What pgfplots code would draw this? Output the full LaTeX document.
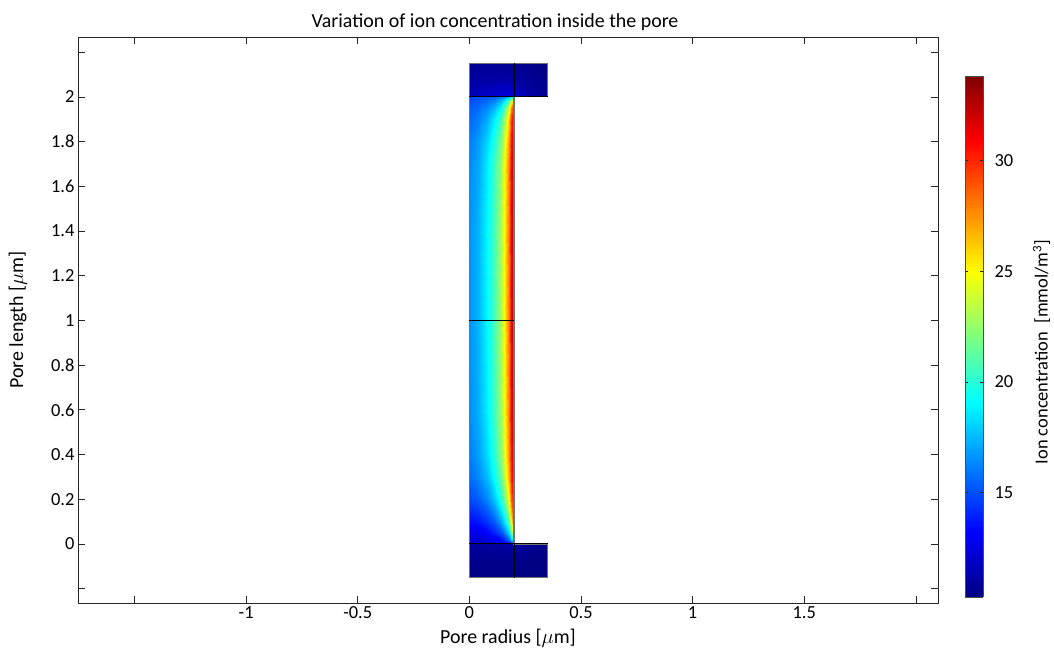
\documentclass[border=0pt]{standalone}
\usepackage{pgfplots}
\pgfplotsset{compat=1.18}
\usepackage{fontspec}
\setmainfont{Carlito}
\begin{document}
\begin{tikzpicture}
\begin{axis}[
  name=main,
  scale only axis,
  width=860bp, height=566bp,
  xmin=-1.753, xmax=2.099, ymin=-0.264, ymax=2.268,
  axis line style={black!85, line width=0.9bp},
  tick style={black!85, line width=0.8bp},
  major tick length=7bp,
  xtick={-1.5,-1,-0.5,0,0.5,1,1.5,2},
  xticklabels={,-1,-0.5,0,0.5,1,1.5,},
  ytick={-0.2,0,0.2,0.4,0.6,0.8,1,1.2,1.4,1.6,1.8,2,2.2},
  yticklabels={,0,0.2,0.4,0.6,0.8,1,1.2,1.4,1.6,1.8,2,},
  ticklabel style={font=\fontsize{18.5}{20}\selectfont},
  title={Variation of ion concentration inside the pore},
  title style={at={(axis description cs:0.485,1.016)},anchor=center,yshift=0pt,font=\fontsize{20}{22}\selectfont},
  xlabel={Pore radius [$\mu$m]},
  ylabel={Pore length [$\mu$m]},
  every axis x label/.style={at={(axis description cs:0.5,-0.062)},anchor=center,font=\fontsize{20}{22}\selectfont},
  every axis y label/.style={at={(axis description cs:-0.0698,0.5)},rotate=90,anchor=center,font=\fontsize{20}{22}\selectfont},
  colormap/jet,
  point meta min=10.3, point meta max=33.8,
  colorbar sampled,
  colorbar style={
    scale only axis,
    samples=160,
    at={(1.0314,0.0106)}, anchor=south west,
    width=18bp, height=521bp,
    ytick={15,20,25,30},
    /pgf/number format/assume math mode=true,
    axis line style={black!70, line width=0.6bp},
    tick style={black!85, line width=0.8bp},
    major tick length=3bp,
    yticklabel style={font=\fontsize{18.5}{20}\selectfont, xshift=8bp},
    ylabel={Ion concentration\ \ [mmol/m\textsuperscript{3}]},
    ylabel style={at={(axis description cs:4.25,0.47)},anchor=center,font=\fontsize{18.5}{20}\selectfont},
  },
]
% pore
\addplot[surf, shader=interp, point meta=explicit] table[meta index=2] {
x y c
0 0 11.8
0.04 0 11.9
0.08 0 12.0
0.11 0 12.2
0.14 0 12.5
0.16 0 12.8
0.176 0 13.2
0.188 0 13.8
0.194 0 14.4
0.2 0 15.0

0 0.02 12.1
0.04 0.02 12.2
0.08 0.02 12.4
0.11 0.02 12.8
0.14 0.02 13.4
0.16 0.02 14.3
0.176 0.02 15.6
0.188 0.02 17.6
0.194 0.02 19.5
0.2 0.02 21.0

0 0.05 12.6
0.04 0.05 12.8
0.08 0.05 13.2
0.11 0.05 13.9
0.14 0.05 15.0
0.16 0.05 16.4
0.176 0.05 18.4
0.188 0.05 21.6
0.194 0.05 24.0
0.2 0.05 26.5

0 0.1 13.4
0.04 0.1 13.7
0.08 0.1 14.4
0.11 0.1 15.3
0.14 0.1 17.0
0.16 0.1 18.8
0.176 0.1 21.4
0.188 0.1 25.0
0.194 0.1 28.0
0.2 0.1 30.5

0 0.15 14.2
0.04 0.15 14.6
0.08 0.15 15.4
0.11 0.15 16.6
0.14 0.15 18.6
0.16 0.15 20.8
0.176 0.15 23.5
0.188 0.15 27.0
0.194 0.15 29.8
0.2 0.15 32.0

0 0.2 14.9
0.04 0.2 15.4
0.08 0.2 16.4
0.11 0.2 17.8
0.14 0.2 19.9
0.16 0.2 22.3
0.176 0.2 25.1
0.188 0.2 28.6
0.194 0.2 30.8
0.2 0.2 32.8

0 0.3 15.7
0.04 0.3 16.4
0.08 0.3 17.6
0.11 0.3 19.2
0.14 0.3 21.5
0.16 0.3 24.1
0.176 0.3 26.9
0.188 0.3 29.9
0.194 0.3 31.6
0.2 0.3 33.3

0 0.4 16.1
0.04 0.4 16.9
0.08 0.4 18.3
0.11 0.4 20.0
0.14 0.4 22.3
0.16 0.4 24.9
0.176 0.4 27.7
0.188 0.4 30.5
0.194 0.4 32.0
0.2 0.4 33.5

0 0.6 16.5
0.04 0.6 17.3
0.08 0.6 18.8
0.11 0.6 20.5
0.14 0.6 22.8
0.16 0.6 25.4
0.176 0.6 28.2
0.188 0.6 31.0
0.194 0.6 32.3
0.2 0.6 33.6

0 1.0 16.6
0.04 1.0 17.4
0.08 1.0 19.0
0.11 1.0 20.7
0.14 1.0 23.0
0.16 1.0 25.6
0.176 1.0 28.3
0.188 1.0 31.1
0.194 1.0 32.4
0.2 1.0 33.6

0 1.4 16.6
0.04 1.4 17.4
0.08 1.4 19.0
0.11 1.4 20.7
0.14 1.4 23.0
0.16 1.4 25.6
0.176 1.4 28.3
0.188 1.4 31.1
0.194 1.4 32.4
0.2 1.4 33.6

0 1.7 16.4
0.04 1.7 17.1
0.08 1.7 18.7
0.11 1.7 20.4
0.14 1.7 22.7
0.16 1.7 25.3
0.176 1.7 28.1
0.188 1.7 30.9
0.194 1.7 32.2
0.2 1.7 33.5

0 1.8 16.1
0.04 1.8 16.8
0.08 1.8 18.2
0.11 1.8 19.8
0.14 1.8 22.0
0.16 1.8 24.7
0.176 1.8 27.6
0.188 1.8 30.6
0.194 1.8 32.0
0.2 1.8 33.4

0 1.9 15.6
0.04 1.9 16.1
0.08 1.9 17.2
0.11 1.9 18.6
0.14 1.9 20.6
0.16 1.9 23.2
0.176 1.9 26.3
0.188 1.9 29.6
0.194 1.9 31.5
0.2 1.9 33.0

0 1.95 15.3
0.04 1.95 15.7
0.08 1.95 16.4
0.11 1.95 17.4
0.14 1.95 19.0
0.16 1.95 21.3
0.176 1.95 24.2
0.188 1.95 27.6
0.194 1.95 30.0
0.2 1.95 32.0

0 1.98 15.0
0.04 1.98 15.2
0.08 1.98 15.7
0.11 1.98 16.3
0.14 1.98 17.5
0.16 1.98 19.1
0.176 1.98 21.2
0.188 1.98 24.0
0.194 1.98 26.5
0.2 1.98 28.0

0 2.0 14.8
0.04 2.0 15.0
0.08 2.0 15.2
0.11 2.0 15.5
0.14 2.0 16.0
0.16 2.0 16.8
0.176 2.0 17.8
0.188 2.0 19.0
0.194 2.0 20.0
0.2 2.0 21.0
};
% bottom reservoir
\addplot[surf, shader=interp, point meta=explicit] table[meta index=2] {
x y c
0 -0.15 10.4
0.1 -0.15 10.4
0.2 -0.15 10.4
0.275 -0.15 10.3
0.35 -0.15 10.3

0 -0.075 10.6
0.1 -0.075 10.6
0.2 -0.075 10.6
0.275 -0.075 10.4
0.35 -0.075 10.3

0 0 11.0
0.1 0 11.1
0.2 0 11.2
0.275 0 10.7
0.35 0 10.4
};
% top reservoir
\addplot[surf, shader=interp, point meta=explicit] table[meta index=2] {
x y c
0 2.0 11.6
0.1 2.0 12.2
0.2 2.0 12.6
0.275 2.0 11.2
0.35 2.0 10.7

0 2.075 11.0
0.1 2.075 11.2
0.2 2.075 11.2
0.275 2.075 10.8
0.35 2.075 10.5

0 2.15 10.7
0.1 2.15 10.7
0.2 2.15 10.7
0.275 2.15 10.5
0.35 2.15 10.4
};
% geometry outlines
\addplot[draw=black!55, line width=1.1bp] coordinates {(0,-0.15) (0.35,-0.15) (0.35,0) (0.2,0) (0.2,2) (0.35,2) (0.35,2.15) (0,2.15) (0,-0.15)};
\addplot[draw=black, line width=1bp] coordinates {(0,0) (0.35,0)};
\addplot[draw=black, line width=1bp] coordinates {(0,2) (0.35,2)};
\addplot[draw=black, line width=1bp] coordinates {(0,1) (0.2,1)};
\addplot[draw=black, line width=1bp] coordinates {(0.2,-0.15) (0.2,0)};
\addplot[draw=black, line width=1bp] coordinates {(0.2,2) (0.2,2.15)};
\end{axis}
\pgfresetboundingbox
\path ([shift={(-78bp,-48bp)}]main.south west) rectangle ([shift={(116bp,37bp)}]main.north east);
\end{tikzpicture}
\end{document}
